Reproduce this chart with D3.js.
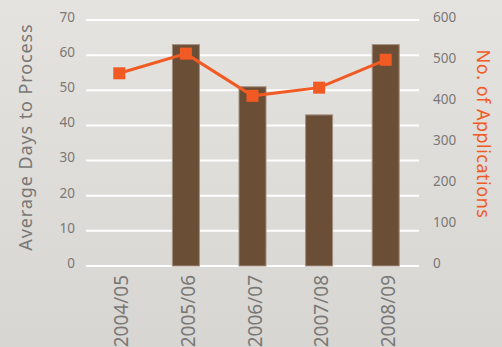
<!DOCTYPE html>
<html>
<head>
<meta charset="utf-8">
<script src="https://cdn.jsdelivr.net/npm/d3@7"></script>
<style>
  html, body { margin: 0; padding: 0; }
  body { width: 502px; height: 347px; overflow: hidden; }
  svg { display: block; }
</style>
</head>
<body>
<svg id="chart" width="502" height="347"></svg>
<script>
// Processing times (bars, left axis) and application counts (line, right axis)
const years = ["2004/05", "2005/06", "2006/07", "2007/08", "2008/09"];
const avgDays = [null, 63, 51, 43, 63];
const applications = [470, 518, 415, 435, 503];
const leftTicks = [0, 10, 20, 30, 40, 50, 60, 70];
const rightTicks = [0, 100, 200, 300, 400, 500, 600];

const W = 502, H = 347;
const plot = { left: 86, right: 419, top: 20, bottom: 266 };
const font = "'Noto Sans', sans-serif";
const grey = "#7a7876";
const orange = "#f15a22";

const svg = d3.select("#chart");

// background wash
const defs = svg.append("defs");
const grad = defs.append("linearGradient")
  .attr("id", "bg").attr("x1", 0).attr("y1", 0).attr("x2", 0).attr("y2", 1);
grad.append("stop").attr("offset", "0%").attr("stop-color", "#e5e3e0");
grad.append("stop").attr("offset", "100%").attr("stop-color", "#d7d6d3");
svg.append("rect").attr("width", W).attr("height", H).attr("fill", "url(#bg)");

const xc = d3.scalePoint().domain(years).range([plot.left, plot.right]).padding(0.5);
const yL = d3.scaleLinear().domain([0, 70]).range([plot.bottom, plot.top]);
const yR = d3.scaleLinear().domain([0, 600]).range([plot.bottom, plot.top]);

// horizontal grid
svg.append("g")
  .selectAll("line").data(leftTicks).join("line")
  .attr("x1", plot.left).attr("x2", plot.right)
  .attr("y1", d => yL(d)).attr("y2", d => yL(d))
  .attr("stroke", "#ffffff").attr("stroke-width", 2);

// left axis
const axL = svg.append("g")
  .attr("transform", `translate(${plot.left - 11},-3)`)
  .call(d3.axisLeft(yL).tickValues(leftTicks).tickSize(0).tickPadding(0));
axL.select(".domain").remove();
axL.selectAll("text").attr("fill", grey).attr("font-size", 13.5).attr("font-family", font);

// right axis
const axR = svg.append("g")
  .attr("transform", `translate(${plot.right + 14},-3)`)
  .call(d3.axisRight(yR).tickValues(rightTicks).tickSize(0).tickPadding(0));
axR.select(".domain").remove();
axR.selectAll("text").attr("fill", grey).attr("font-size", 13.5).attr("font-family", font);

// bars
const barW = 27;
svg.append("g")
  .selectAll("rect").data(years.map((y, i) => ({ y, v: avgDays[i] })).filter(d => d.v != null))
  .join("rect")
  .attr("x", d => xc(d.y) - barW / 2)
  .attr("width", barW)
  .attr("y", d => yL(d.v))
  .attr("height", d => yL(0) - yL(d.v))
  .attr("fill", "#6b4e36")
  .attr("stroke", "#a38f7e")
  .attr("stroke-width", 1);

// applications line
const pts = years.map((y, i) => ({ y, v: applications[i] }));
svg.append("path")
  .datum(pts)
  .attr("fill", "none")
  .attr("stroke", orange)
  .attr("stroke-width", 3)
  .attr("d", d3.line().x(d => xc(d.y)).y(d => yR(d.v)));
const m = 12;
svg.append("g")
  .selectAll("rect").data(pts).join("rect")
  .attr("x", d => xc(d.y) - m / 2)
  .attr("y", d => yR(d.v) - m / 2)
  .attr("width", m).attr("height", m)
  .attr("fill", orange);

// category labels, rotated
svg.append("g")
  .selectAll("text").data(years).join("text")
  .attr("transform", d => `translate(${xc(d) + 9},275) rotate(-90)`)
  .attr("text-anchor", "end")
  .attr("fill", grey)
  .attr("font-size", 19)
  .attr("font-family", font)
  .text(d => d);

// axis titles
svg.append("text")
  .attr("transform", `translate(32,137) rotate(-90)`)
  .attr("text-anchor", "middle")
  .attr("fill", grey)
  .attr("font-size", 18)
  .attr("letter-spacing", 0.9)
  .attr("font-family", font)
  .text("Average Days to Process");

svg.append("text")
  .attr("transform", `translate(477,134) rotate(90)`)
  .attr("text-anchor", "middle")
  .attr("fill", orange)
  .attr("font-size", 18)
  .attr("letter-spacing", 0.5)
  .attr("font-family", font)
  .text("No. of Applications");
</script>
</body>
</html>
